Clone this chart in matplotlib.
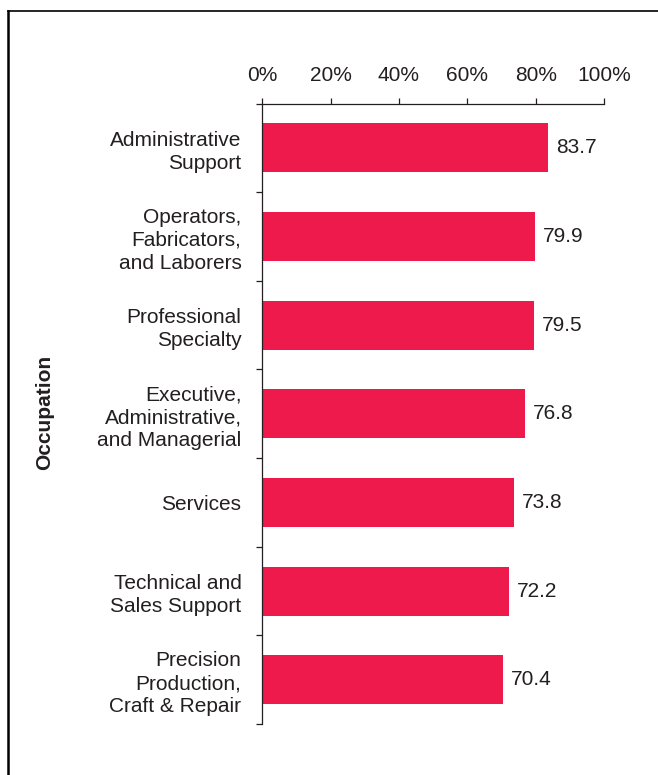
import matplotlib
matplotlib.use("Agg")
import matplotlib.pyplot as plt
from matplotlib.lines import Line2D
import numpy as np

categories = ["Administrative\nSupport",
              "Operators,\nFabricators,\nand Laborers",
              "Professional\nSpecialty",
              "Executive,\nAdministrative,\nand Managerial",
              "Services",
              "Technical and\nSales Support",
              "Precision\nProduction,\nCraft & Repair"]
values = [83.7, 79.9, 79.5, 76.8, 73.8, 72.2, 70.4]
xticks = [0, 20, 40, 60, 80, 100]
xtick_labels = ["0%", "20%", "40%", "60%", "80%", "100%"]

plt.rcParams['font.family'] = ['Liberation Sans', 'DejaVu Sans']
txt = '#231F20'
bar_color = '#EE1A4B'
fs = 15

fig = plt.figure(figsize=(6.58, 7.75), dpi=100)
L, R, T, B = 262.3, 604.0, 103.5, 724.0
ax = fig.add_axes([L/658, 1-B/775, (R-L)/658, (B-T)/775])

n = len(categories)
ypos = np.arange(n)
ax.barh(ypos, values, height=0.553, color=bar_color)
ax.set_xlim(0, 100)
ax.set_ylim(n - 0.5, -0.5)

for y, v in zip(ypos, values):
    ax.text(v + 2.3, y, f"{v:.1f}", va='center', ha='left', fontsize=fs, color=txt)

ax.xaxis.tick_top()
ax.set_xticks(xticks)
ax.set_xticklabels(xtick_labels, fontsize=fs, color=txt)
ax.tick_params(axis='x', length=4.5, width=0.9, pad=8.5, color=txt, top=True, bottom=False)

ax.set_yticks(np.arange(-0.5, n, 1.0))
ax.set_yticklabels([])
ax.tick_params(axis='y', which='major', length=4.5, width=0.9, color=txt)
ax.set_yticks(ypos, minor=True)
ax.set_yticklabels(categories, minor=True, fontsize=fs, color=txt, linespacing=1.25)
ax.tick_params(axis='y', which='minor', length=0, pad=15)

for s in ['right', 'bottom']:
    ax.spines[s].set_visible(False)
for s in ['top', 'left']:
    ax.spines[s].set_linewidth(0.9)
    ax.spines[s].set_color(txt)

fig.text(45/658, 1-412/775, "Occupation", rotation=90, fontsize=fs, fontweight='bold',
         color=txt, ha='center', va='center')

# frame lines
fig.add_artist(Line2D([7.5/658, 7.5/658], [0, 1-11/775], transform=fig.transFigure, color='black', lw=1.8))
fig.add_artist(Line2D([7.5/658, 1], [1-11/775, 1-11/775], transform=fig.transFigure, color='black', lw=1.2))

fig.savefig("out.png", dpi=100)
